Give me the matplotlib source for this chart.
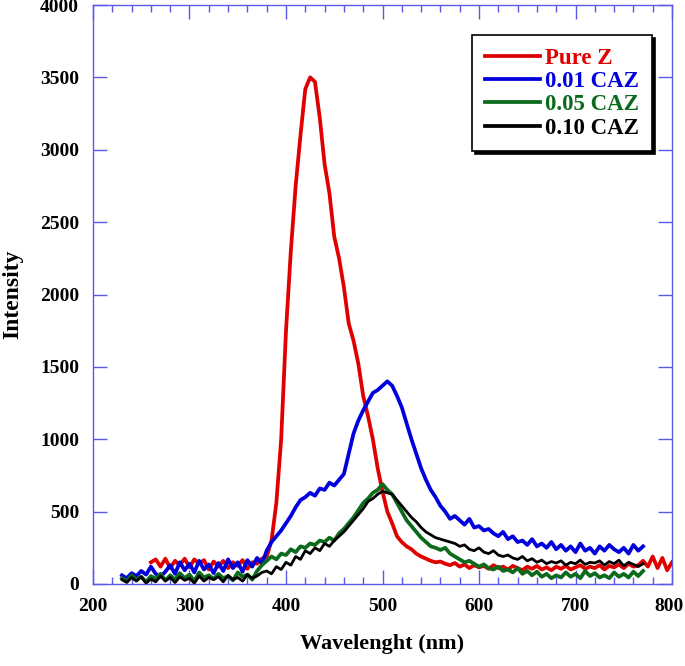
import numpy as np
import matplotlib
matplotlib.use("Agg")
import matplotlib.pyplot as plt
import matplotlib.transforms as mtransforms

plt.rcParams["font.family"] = ["Liberation Serif", "DejaVu Serif"]
plt.rcParams["font.weight"] = "bold"

# wavelength grids (nm)
wl_pure = np.arange(260, 801, 5)
wl_caz = np.arange(230, 771, 5)

# intensities
pure_z = [150, 170, 120, 175, 110, 160, 130, 175, 115, 170,
          140, 165, 100, 155, 120, 160, 110, 150, 125, 165,
          105, 150, 140, 175, 190, 300, 560, 1000, 1750, 2300,
          2750, 3100, 3420, 3500, 3470, 3220, 2900, 2700, 2400, 2250,
          2050, 1800, 1680, 1520, 1300, 1160, 1000, 800, 640, 500,
          420, 330, 290, 260, 240, 210, 190, 175, 160, 150,
          155, 140, 130, 145, 120, 135, 110, 130, 115, 125,
          105, 130, 110, 120, 100, 125, 110, 95, 120, 105,
          125, 100, 115, 95, 120, 105, 125, 100, 115, 130,
          105, 120, 110, 130, 100, 125, 115, 135, 110, 140,
          120, 130, 160, 120, 190, 110, 180, 95, 150]

caz_001 = [60, 40, 75, 55, 90, 65, 120, 70, 50, 85,
           130, 70, 150, 95, 140, 80, 160, 100, 135, 75,
           145, 90, 170, 110, 150, 85, 165, 120, 180, 140,
           230, 290, 330, 370, 420, 470, 530, 580, 600, 630,
           610, 660, 650, 700, 680, 720, 760, 900, 1040, 1130,
           1200, 1260, 1320, 1340, 1370, 1400, 1370, 1300, 1220, 1110,
           1000, 900, 800, 720, 650, 600, 540, 500, 450, 470,
           440, 410, 450, 390, 400, 370, 380, 350, 330, 360,
           310, 330, 290, 300, 270, 310, 260, 280, 250, 290,
           240, 270, 230, 260, 220, 280, 230, 250, 210, 260,
           230, 270, 240, 220, 250, 210, 270, 230, 260]

caz_005 = [40, 20, 60, 30, 50, 15, 55, 35, 70, 25,
           60, 30, 75, 40, 65, 20, 80, 45, 60, 35,
           70, 40, 55, 25, 80, 50, 65, 30, 90, 130,
           160, 190, 170, 210, 200, 240, 220, 260, 250, 280,
           270, 300, 290, 320, 300, 350, 380, 420, 460, 510,
           560, 590, 630, 650, 690, 650, 620, 560, 500, 440,
           400, 360, 320, 290, 260, 250, 235, 250, 210, 190,
           170, 150, 160, 140, 120, 135, 110, 100, 120, 90,
           100, 80, 110, 70, 90, 60, 85, 50, 70, 40,
           60, 45, 80, 50, 70, 40, 90, 55, 75, 45,
           60, 40, 80, 50, 70, 45, 85, 55, 90]

caz_010 = [30, 10, 45, 20, 50, 5, 35, 15, 55, 20,
           45, 10, 50, 25, 40, 5, 55, 20, 45, 30,
           50, 15, 60, 30, 45, 20, 65, 40, 55, 80,
           90, 70, 120, 100, 150, 130, 190, 170, 230, 210,
           250, 230, 280, 260, 300, 330, 360, 400, 440, 480,
           520, 570, 590, 620, 640, 630, 620, 580, 540, 500,
           460, 430, 390, 360, 340, 320, 310, 300, 290, 280,
           260, 270, 240, 230, 250, 220, 210, 230, 200, 190,
           200, 180, 170, 190, 160, 175, 150, 165, 140, 155,
           145, 160, 130, 150, 140, 165, 135, 150, 145, 160,
           130, 155, 140, 165, 125, 150, 135, 120, 140]

labels = ["Pure Z", "0.01 CAZ", "0.05 CAZ", "0.10 CAZ"]
colors = ["#e00000", "#0000dd", "#0b6a1c", "#000000"]

fig = plt.figure(figsize=(6.85, 6.66), dpi=100)
ax = fig.add_axes([93 / 685, 82 / 666, 579 / 685, 579 / 666])

ax.plot(wl_pure, pure_z, color=colors[0], lw=2.7, label=labels[0])
ax.plot(wl_caz, caz_001, color=colors[1], lw=2.7, label=labels[1])
ax.plot(wl_caz, caz_005, color=colors[2], lw=2.7, label=labels[2])
ax.plot(wl_caz, caz_010, color=colors[3], lw=2.0, label=labels[3])

ax.set_xlim(200, 800)
ax.set_ylim(0, 4000)
ax.set_xticks(np.arange(200, 801, 100))
ax.set_xticks(np.arange(200, 801, 20), minor=True)
ax.set_yticks(np.arange(0, 4001, 500))

axis_blue = "#5a5ae6"
for sp in ax.spines.values():
    sp.set_color(axis_blue)
    sp.set_linewidth(1.0)
ax.tick_params(which="both", direction="in", top=True, right=True,
               color=axis_blue, labelsize=14, pad=10)
ax.tick_params(which="major", length=10, width=1)
ax.tick_params(which="minor", length=5, width=1)
for lab in ax.get_xticklabels() + ax.get_yticklabels():
    lab.set_fontweight("bold")

# nudge the last x label so it stays inside the figure
last = ax.get_xticklabels()[-1]
last.set_transform(last.get_transform() +
                   mtransforms.ScaledTranslation(-3 / 100, 0, fig.dpi_scale_trans))

ax.set_xlabel("Wavelenght (nm)", fontsize=16, fontweight="bold", labelpad=14)
ax.set_ylabel("Intensity", fontsize=17, fontweight="bold", labelpad=12)

leg = ax.legend(loc="upper right", bbox_to_anchor=(0.9655, 0.948),
                borderaxespad=0, fancybox=False, shadow={"color": "black", "alpha": 1},
                edgecolor="black", framealpha=1, handlelength=2.4,
                handletextpad=0.25, labelspacing=0.1, borderpad=0.55,
                prop={"weight": "bold", "size": 16.5})
leg.get_frame().set_linewidth(1.2)
for txt, c in zip(leg.get_texts(), colors):
    txt.set_color(c)
for h in leg.legend_handles:
    h.set_linewidth(2.7)

fig.savefig("out.png", dpi=100)
